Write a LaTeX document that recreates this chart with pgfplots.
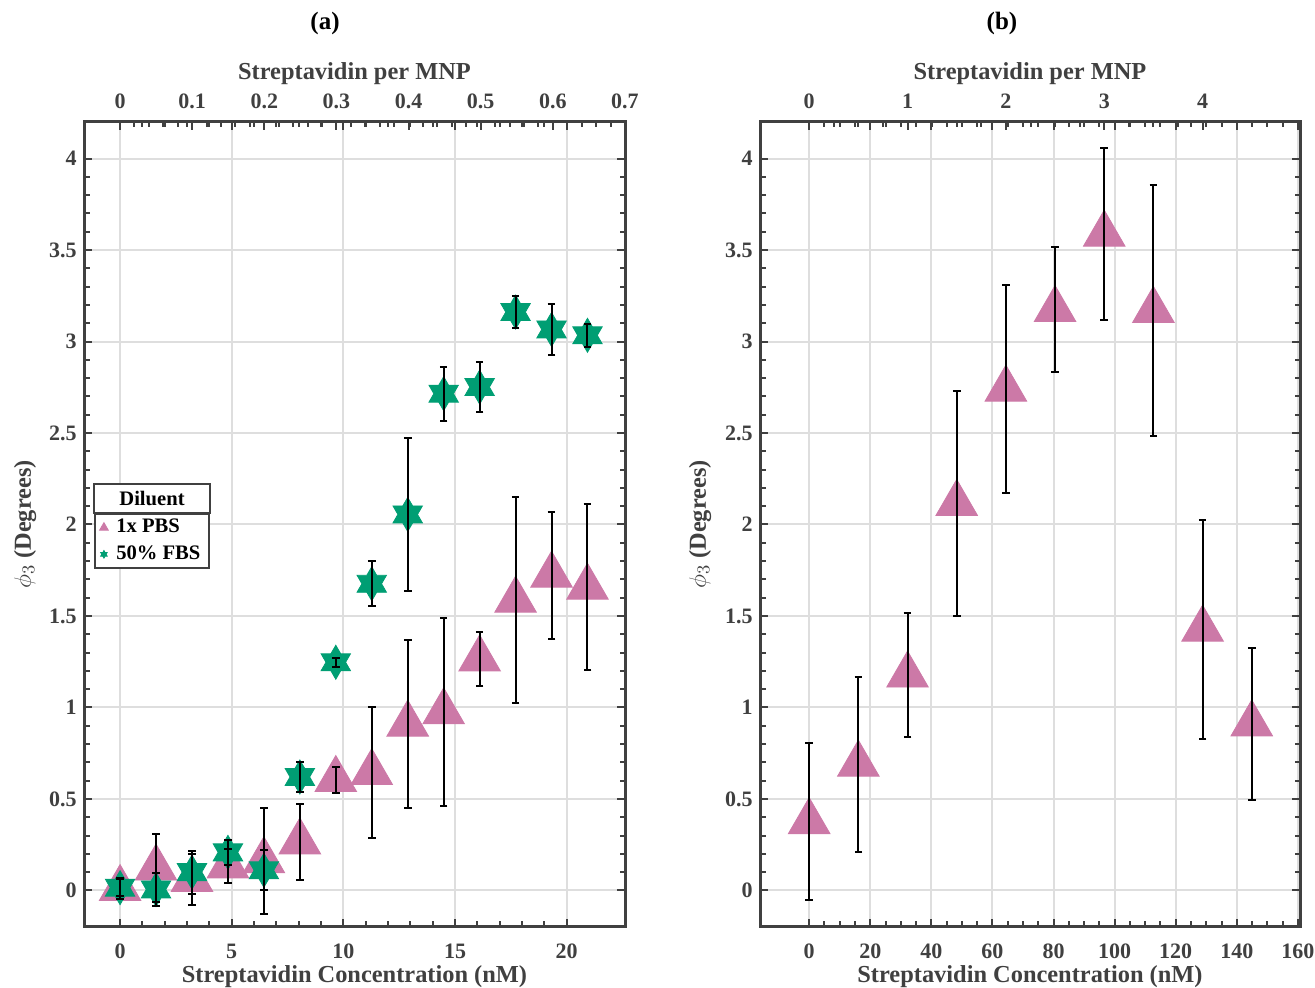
\documentclass[border=0pt]{standalone}
\usepackage{fontspec}
\setmainfont{Liberation Serif}
\usepackage{pgfplots}
\pgfplotsset{compat=1.18}
\usetikzlibrary{calc}

\definecolor{pbs}{RGB}{204,121,167}
\definecolor{fbs}{RGB}{0,158,115}
\definecolor{axgray}{RGB}{64,64,64}
\definecolor{gridgray}{RGB}{222,222,222}

\pgfdeclareplotmark{hexagram}{%
 \pgfpathmoveto{\pgfqpointpolar{90}{\pgfplotmarksize}}%
 \pgfpathlineto{\pgfqpointpolar{120}{0.57735\pgfplotmarksize}}%
 \pgfpathlineto{\pgfqpointpolar{150}{\pgfplotmarksize}}%
 \pgfpathlineto{\pgfqpointpolar{180}{0.57735\pgfplotmarksize}}%
 \pgfpathlineto{\pgfqpointpolar{210}{\pgfplotmarksize}}%
 \pgfpathlineto{\pgfqpointpolar{240}{0.57735\pgfplotmarksize}}%
 \pgfpathlineto{\pgfqpointpolar{270}{\pgfplotmarksize}}%
 \pgfpathlineto{\pgfqpointpolar{300}{0.57735\pgfplotmarksize}}%
 \pgfpathlineto{\pgfqpointpolar{330}{\pgfplotmarksize}}%
 \pgfpathlineto{\pgfqpointpolar{0}{0.57735\pgfplotmarksize}}%
 \pgfpathlineto{\pgfqpointpolar{30}{\pgfplotmarksize}}%
 \pgfpathlineto{\pgfqpointpolar{60}{0.57735\pgfplotmarksize}}%
 \pgfpathclose
 \pgfusepathqfillstroke
}

\pgfplotstableread{
x y e
0 0.010 0.058
1.61 0.122 0.186
3.22 0.060 0.140
4.83 0.134 0.094
6.44 0.162 0.290
8.05 0.265 0.209
9.66 0.606 0.071
11.27 0.644 0.360
12.88 0.909 0.457
14.49 0.976 0.513
16.10 1.265 0.146
17.71 1.586 0.562
19.32 1.723 0.347
20.93 1.657 0.454
}\pbsA

\pgfplotstableread{
x y e
0 0.015 0.048
1.61 0.005 0.088
3.22 0.100 0.118
4.83 0.208 0.070
6.44 0.110 0.109
8.05 0.620 0.083
9.66 1.247 0.025
11.27 1.676 0.122
12.88 2.055 0.419
14.49 2.715 0.148
16.10 2.751 0.137
17.71 3.161 0.089
19.32 3.066 0.138
20.93 3.034 0.062
}\fbsA

\pgfplotstableread{
x y e
0 0.376 0.430
16.1 0.690 0.478
32.2 1.177 0.340
48.3 2.115 0.615
64.4 2.740 0.570
80.5 3.175 0.340
96.6 3.587 0.470
112.7 3.170 0.686
128.8 1.428 0.598
144.9 0.910 0.415
}\pbsB

\pgfplotsset{
  base/.style={
    scale only axis, width=270.5pt, height=402.5pt, anchor=south west,
    clip=false, clip marker paths=true,
    ymin=-0.2, ymax=4.2, ytick={0,0.5,...,4}, minor y tick num=4,
    tick align=inside,
    major tick length=4pt, minor tick length=2.75pt,
    tick style={axgray, line width=1pt},
    axis line style={draw=axgray, line width=1.5pt},
    grid=major, major grid style={gridgray, line width=1pt},
    /pgf/number format/assume math mode=true,
    tick label style={font=\fontsize{11}{13}\selectfont\bfseries, text=axgray, inner sep=0pt},
    xticklabel style={anchor=center, yshift=-12pt},
    yticklabel style={anchor=east, xshift=-3.5pt},
    label style={font=\fontsize{12.2}{14}\selectfont\bfseries, text=axgray},
    xlabel style={at={(axis description cs:0.5,-0.0621)}, anchor=center},
    ylabel style={at={(axis description cs:-0.109,0.5)}, anchor=center},
    xlabel={Streptavidin Concentration (nM)},
    ylabel={$\phi_3$ (Degrees)},
  },
  topax/.style={
    scale only axis, width=270.5pt, height=402.5pt, anchor=south west,
    ymin=0, ymax=1, axis x line*=top, axis y line=none,
    tick align=inside,
    major tick length=4pt, minor tick length=2.75pt,
    tick style={axgray, line width=1pt},
    axis line style={draw=axgray, line width=1.5pt},
    /pgf/number format/assume math mode=true,
    tick label style={font=\fontsize{11}{13}\selectfont\bfseries, text=axgray, inner sep=0pt},
    xticklabel style={anchor=center, yshift=10.25pt},
    label style={font=\fontsize{12.2}{14}\selectfont\bfseries, text=axgray},
    xlabel style={at={(axis description cs:0.5,1.0596)}, anchor=center},
    xlabel={Streptavidin per MNP},
  },
  ebar/.style={mark=none, draw=none, forget plot,
    error bars/.cd, y dir=both, y explicit, error mark=-,
    error bar style={draw=black, line width=1pt, solid},
    error mark options={rotate=90, draw=black, line width=1pt, mark size=1.9pt}},
}

\begin{document}
\begin{tikzpicture}
\path[use as bounding box] (0,0) rectangle (657.5pt,494pt);

% ---------- panel (a) ----------
\begin{axis}[base, at={(42pt,30.5pt)},
  xmin=-1.615, xmax=22.61, xtick={0,5,...,20}, minor x tick num=4,
  legend style={name=legA, at={(rel axis cs:0.0185,0.5143)}, anchor=north west,
    draw=axgray, line width=1pt, fill=white, text=black,
    font=\fontsize{10.3}{12}\selectfont\bfseries,
    minimum width=57pt, minimum height=27pt, inner sep=0pt, row sep=1pt,
    column sep=2pt,
    cells={anchor=west, minimum width=0pt, minimum height=0pt, inner sep=1.5pt}},
  legend image code/.code={\draw[mark repeat=2,mark phase=2,#1] plot coordinates {(0pt,0pt) (4pt,0pt) (8pt,0pt)};},
]
\addplot[only marks, mark=triangle*, mark size=12pt, color=pbs,
  mark options={fill=pbs, draw=pbs, line width=0.4pt},
  legend image post style={mark size=2.5pt}] table[x=x,y=y] {\pbsA};
\addlegendentry{1x PBS}
\addplot[only marks, mark=hexagram, mark size=8.5pt, color=fbs,
  mark options={fill=fbs, draw=fbs, line width=0.4pt},
  legend image post style={mark size=1.9pt}] table[x=x,y=y] {\fbsA};
\addlegendentry{50\% FBS}
\addplot[ebar] table[x=x,y=y,y error=e] {\pbsA};
\addplot[ebar] table[x=x,y=y,y error=e] {\fbsA};
\end{axis}
\begin{axis}[topax, at={(42pt,30.5pt)},
  xmin=-0.05, xmax=0.7, xtick={0,0.1,...,0.7}, minor x tick num=4]
\end{axis}

\draw[axgray, line width=1pt, fill=white] (legA.north west) rectangle ($(legA.north east)+(0,14.5pt)$);
\node[font=\fontsize{10.3}{12}\selectfont\bfseries, text=black] at ($(legA.north)+(0,7.25pt)$) {Diluent};

% ---------- panel (b) ----------
\begin{axis}[base, at={(380pt,30.5pt)}, width=270pt,
  xmin=-16.1, xmax=160.7, xtick={0,20,...,160}, minor x tick num=3,
  ylabel style={at={(axis description cs:-0.111,0.5)}, anchor=center},
]
\addplot[only marks, mark=triangle*, mark size=12pt, color=pbs,
  mark options={fill=pbs, draw=pbs, line width=0.4pt}] table[x=x,y=y] {\pbsB};
\addplot[ebar] table[x=x,y=y,y error=e] {\pbsB};
\end{axis}
\begin{axis}[topax, at={(380pt,30.5pt)}, width=270pt,
  xmin=-0.5, xmax=4.99, xtick={0,1,...,4}, minor x tick num=3]
\end{axis}

\node[font=\fontsize{12.5}{15}\selectfont\bfseries, text=black] at (162.5pt,482pt) {(a)};
\node[font=\fontsize{12.5}{15}\selectfont\bfseries, text=black] at (501pt,482pt) {(b)};
\end{tikzpicture}
\end{document}
